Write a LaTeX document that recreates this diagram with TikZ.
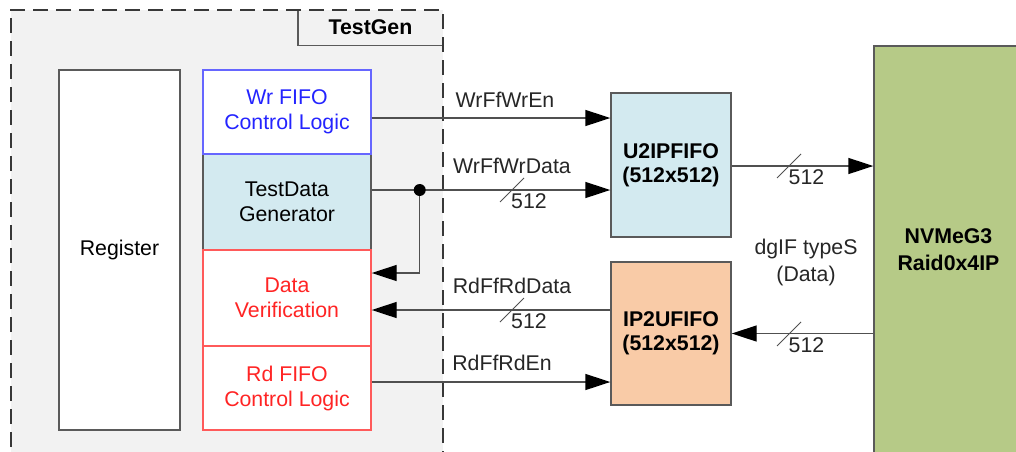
\documentclass[tikz,border=0pt]{standalone}
\usepackage{fontspec}
\setmainfont{Liberation Sans}
\usetikzlibrary{arrows.meta}
\definecolor{areafill}{HTML}{F2F2F2}
\definecolor{linegray}{HTML}{505050}
\definecolor{dashgray}{HTML}{383838}
\definecolor{boxgray}{HTML}{5A5A5A}
\definecolor{myblue}{HTML}{2424FF}
\definecolor{bordblue}{HTML}{6666FF}
\definecolor{myred}{HTML}{FF2424}
\definecolor{bordred}{HTML}{FF5A5A}
\definecolor{lightblue}{HTML}{D3EAF0}
\definecolor{peach}{HTML}{F9CBA7}
\definecolor{nvgreen}{HTML}{B6CA87}
\begin{document}
\begin{tikzpicture}[x=1pt,y=-1pt,
  font=\fontsize{21.3}{25}\selectfont,
  blk/.style={draw=boxgray, line width=1.4pt, inner sep=0pt, align=center, fill=white},
  arr/.style={draw=linegray, line width=1.4pt, -{Triangle[length=25pt,width=16pt,color=black]}},
  slash/.style={draw=linegray, line width=1pt},
  lbl/.style={inner sep=0pt, anchor=base, text=black!85}
]
\useasboundingbox (0,0) rectangle (1016,451);
\clip (0,0) rectangle (1016,451);

% TestGen area
\node[fill=areafill, inner sep=0pt, minimum width=432pt, minimum height=460pt] (area) at (227,240) {};
\node[inner sep=0pt, minimum width=145pt, minimum height=35pt, font=\fontsize{21.3}{25}\selectfont\bfseries] (tg) at (370.5,27.5) {TestGen};
\draw[draw=boxgray, line width=1.4pt] (tg.north west) -- (tg.south west) -- (tg.south east);
\draw[draw=dashgray, line width=2pt, dash pattern=on 15pt off 8pt] (area.south west) -- (area.north west) -- (area.north east) -- (area.south east);

% blocks inside
\node[blk, minimum width=121pt, minimum height=360pt] (reg) at (119.5,250) {Register};
\node[blk, fill=lightblue, minimum width=168pt, minimum height=96pt] (tdg) at (287,202) {TestData\\Generator};
\node[blk, draw=bordblue, text=myblue, minimum width=168pt, minimum height=84pt] (wr) at (287,112) {Wr FIFO\\Control Logic};
\node[blk, draw=bordred, text=myred, minimum width=168pt, minimum height=96pt] (dv) at (287,298) {Data\\Verification};
\node[blk, draw=bordred, text=myred, minimum width=168pt, minimum height=84pt] (rd) at (287,388) {Rd FIFO\\Control Logic};

% FIFOs and IP
\node[blk, fill=lightblue, minimum width=120pt, minimum height=144pt, font=\fontsize{21.3}{24}\selectfont\bfseries] (u2ip) at (671,165) {U2IPFIFO\\(512x512)};
\node[blk, fill=peach, minimum width=120pt, minimum height=143pt, font=\fontsize{21.3}{24}\selectfont\bfseries] (ip2u) at (671,333.5) {IP2UFIFO\\(512x512)};
\node[blk, fill=nvgreen, minimum width=149pt, minimum height=420pt] (nvme) at (948.5,256) {};
\node[inner sep=0pt, align=center, font=\fontsize{21.3}{27}\selectfont\bfseries] (nvtxt) at (948.5,250) {NVMeG3\\Raid0x4IP};

% connectors
\coordinate (wrout) at ([yshift=-6pt]wr.east);
\draw[arr] (wrout) -- (wrout -| u2ip.west);
\coordinate (tdgout) at ([yshift=12pt]tdg.east);
\coordinate (j) at ([xshift=48pt]tdgout);
\draw[arr] (tdgout) -- (j -| u2ip.west);
\coordinate (dvin1) at ([yshift=25pt]dv.east);
\draw[arr] (j) |- (dvin1);
\fill[black] (j) circle (6pt);
\coordinate (dvin2) at ([yshift=-12pt]dv.east);
\draw[arr] (dvin2 -| ip2u.west) -- (dvin2);
\coordinate (rdout) at ([yshift=6pt]rd.east);
\draw[arr] (rdout) -- (rdout -| ip2u.west);
\draw[arr] ([yshift=-1pt]u2ip.east) -- ([yshift=-1pt]u2ip.east -| nvme.west);
\draw[arr] (ip2u.east -| nvme.west) -- (ip2u.east);

% bus slashes
\draw[slash] (500,202) -- (524,178);
\draw[slash] (500,322) -- (524,298);
\draw[slash] (777,178) -- (801,154);
\draw[slash] (777,346) -- (801,322);

% labels
\node[lbl] (l1) at (505,107) {WrFfWrEn};
\node[lbl] (l2) at (512,173) {WrFfWrData};
\node[lbl] (l3) at (529,208) {512};
\node[lbl] (l4) at (512,293) {RdFfRdData};
\node[lbl] (l5) at (529,328) {512};
\node[lbl] (l6) at (502,370) {RdFfRdEn};
\node[lbl] (l7) at (806.5,184) {512};
\node[lbl] (l8) at (806.5,352) {512};
\node[inner sep=0pt, align=center, text=black!85, font=\fontsize{21.3}{27}\selectfont] (dg) at (806,262) {dgIF typeS\\(Data)};
\end{tikzpicture}
\end{document}
